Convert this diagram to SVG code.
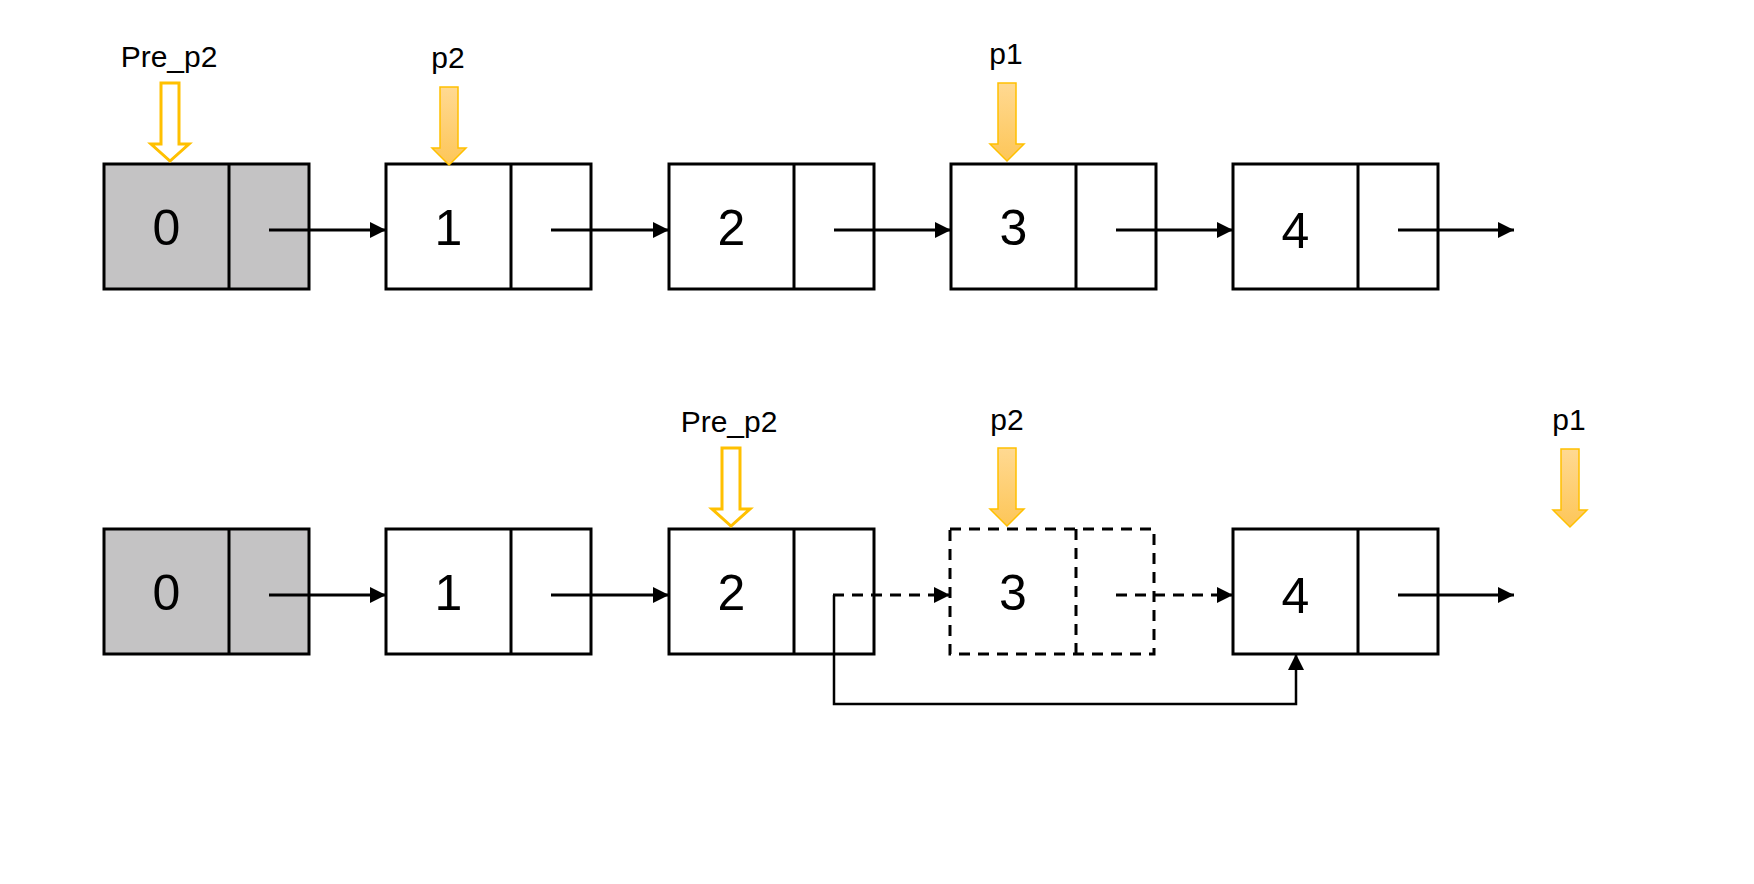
<svg xmlns="http://www.w3.org/2000/svg" xmlns:xlink="http://www.w3.org/1999/xlink" width="1754" height="884" viewBox="0 0 1754 884">
<style>
.cell{fill:#ffffff;stroke:#000000;stroke-width:3}
.gray{fill:#c4c3c4}
.dash{fill:none;stroke:#000000;stroke-width:3;stroke-dasharray:11 8}
.num{font-family:"Liberation Sans",Arial,sans-serif;font-size:50px;fill:#000000;text-anchor:middle}
.lbl{font-family:"Liberation Sans",Arial,sans-serif;font-size:30px;fill:#000000;text-anchor:middle}
.link{fill:none;stroke:#000000;stroke-width:3;marker-end:url(#ah)}
.dlink{fill:none;stroke:#000000;stroke-width:3;stroke-dasharray:11 8;marker-end:url(#ah)}
.filled{fill:url(#og);stroke:#ffc000;stroke-width:1.5}
.hollow{fill:#ffffff;stroke:#ffc000;stroke-width:3}
</style>
<defs>
<marker id="ah" markerUnits="userSpaceOnUse" markerWidth="16" markerHeight="16" refX="16" refY="8" orient="auto" viewBox="0 0 16 16">
<path d="M0,0 L16,8 L0,16 Z" fill="#000000"/>
</marker>
<linearGradient id="og" x1="0" y1="0" x2="0" y2="1">
<stop offset="0" stop-color="#ffd992"/>
<stop offset="1" stop-color="#fdc658"/>
</linearGradient>
<path id="farrow" d="M-9,0 H9 V61 H17 L0,78 L-17,61 H-9 Z"/>
<path id="harrow" d="M-9,0 H9 V61 H19 L0,78 L-19,61 H-9 Z"/>
</defs>
<rect width="1754" height="884" fill="#ffffff"/>

<!-- Row 1 -->
<g id="r1-node0">
<rect class="cell gray" x="104" y="164" width="205" height="125"/>
<line x1="229" y1="164" x2="229" y2="289" stroke="#000" stroke-width="3"/>
<text class="num" x="166.5" y="245">0</text>
</g>
<g id="r1-node1">
<rect class="cell" x="386" y="164" width="205" height="125"/>
<line x1="511" y1="164" x2="511" y2="289" stroke="#000" stroke-width="3"/>
<text class="num" x="448.5" y="245">1</text>
</g>
<g id="r1-node2">
<rect class="cell" x="669" y="164" width="205" height="125"/>
<line x1="794" y1="164" x2="794" y2="289" stroke="#000" stroke-width="3"/>
<text class="num" x="731.5" y="245">2</text>
</g>
<g id="r1-node3">
<rect class="cell" x="951" y="164" width="205" height="125"/>
<line x1="1076" y1="164" x2="1076" y2="289" stroke="#000" stroke-width="3"/>
<text class="num" x="1013.5" y="245">3</text>
</g>
<g id="r1-node4">
<rect class="cell" x="1233" y="164" width="205" height="125"/>
<line x1="1358" y1="164" x2="1358" y2="289" stroke="#000" stroke-width="3"/>
<text class="num" x="1295.5" y="248">4</text>
</g>

<!-- Row 2 -->
<g id="r2-node0">
<rect class="cell gray" x="104" y="529" width="205" height="125"/>
<line x1="229" y1="529" x2="229" y2="654" stroke="#000" stroke-width="3"/>
<text class="num" x="166.5" y="610">0</text>
</g>
<g id="r2-node1">
<rect class="cell" x="386" y="529" width="205" height="125"/>
<line x1="511" y1="529" x2="511" y2="654" stroke="#000" stroke-width="3"/>
<text class="num" x="448.5" y="610">1</text>
</g>
<g id="r2-node2">
<rect class="cell" x="669" y="529" width="205" height="125"/>
<line x1="794" y1="529" x2="794" y2="654" stroke="#000" stroke-width="3"/>
<text class="num" x="731.5" y="610">2</text>
</g>
<g id="r2-node3">
<rect class="dash" x="950" y="529" width="204" height="125"/>
<line class="dash" x1="1076" y1="529" x2="1076" y2="654"/>
<text class="num" x="1013" y="610">3</text>
</g>
<g id="r2-node4">
<rect class="cell" x="1233" y="529" width="205" height="125"/>
<line x1="1358" y1="529" x2="1358" y2="654" stroke="#000" stroke-width="3"/>
<text class="num" x="1295.5" y="613">4</text>
</g>

<!-- Pointers -->
<g id="r1-ptr-pre">
<text class="lbl" x="169" y="67">Pre_p2</text>
<use xlink:href="#harrow" class="hollow" transform="translate(170,83)"/>
</g>
<g id="r1-ptr-p2">
<text class="lbl" x="448" y="68">p2</text>
<use xlink:href="#farrow" class="filled" transform="translate(449,87)"/>
</g>
<g id="r1-ptr-p1">
<text class="lbl" x="1006" y="64">p1</text>
<use xlink:href="#farrow" class="filled" transform="translate(1007,83)"/>
</g>
<g id="r2-ptr-pre">
<text class="lbl" x="729" y="432">Pre_p2</text>
<use xlink:href="#harrow" class="hollow" transform="translate(731,448)"/>
</g>
<g id="r2-ptr-p2">
<text class="lbl" x="1007" y="430">p2</text>
<use xlink:href="#farrow" class="filled" transform="translate(1007,448)"/>
</g>
<g id="r2-ptr-p1">
<text class="lbl" x="1569" y="430">p1</text>
<use xlink:href="#farrow" class="filled" transform="translate(1570,449)"/>
</g>

<!-- Connectors -->
<g id="connectors">
<line class="link" x1="269" y1="230" x2="386" y2="230"/>
<line class="link" x1="551" y1="230" x2="669" y2="230"/>
<line class="link" x1="834" y1="230" x2="951" y2="230"/>
<line class="link" x1="1116" y1="230" x2="1233" y2="230"/>
<line class="link" x1="1398" y1="230" x2="1514" y2="230"/>

<line class="link" x1="269" y1="595" x2="386" y2="595"/>
<line class="link" x1="551" y1="595" x2="669" y2="595"/>
<line class="dlink" x1="833" y1="595" x2="950" y2="595"/>
<line class="dlink" x1="1116" y1="595" x2="1233" y2="595"/>
<line class="link" x1="1398" y1="595" x2="1514" y2="595"/>
<path class="link" style="stroke-width:2.5" d="M834,595 V704 H1296 V654"/>
</g>
</svg>
